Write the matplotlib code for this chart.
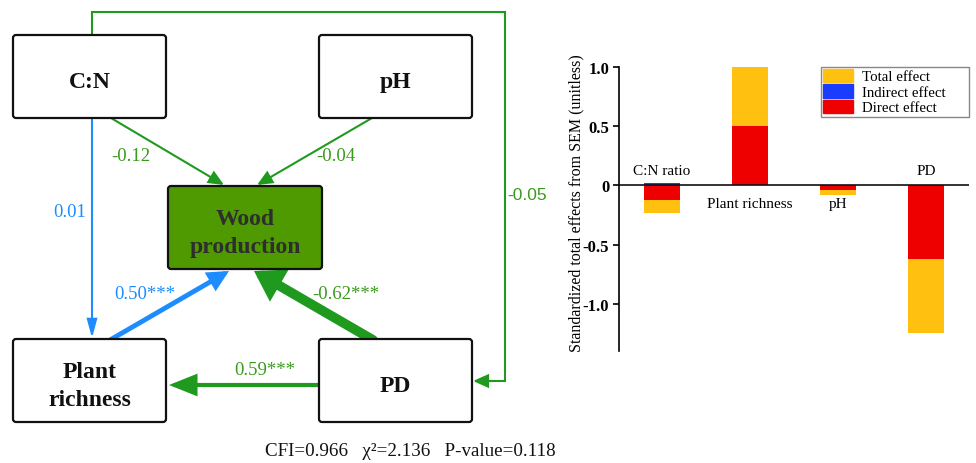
import matplotlib
matplotlib.use('Agg')
from matplotlib import pyplot as plt
from matplotlib.patches import FancyBboxPatch, FancyArrowPatch, Patch

# bar chart data (standardized effects from SEM)
categories = ['C:N ratio', 'Plant richness', 'pH', 'PD']
direct_effect = [-0.12, 0.50, -0.04, -0.62]
indirect_effect = [0.02, 0.0, 0.0, 0.0]
total_effect = [-0.11, 0.50, -0.045, -0.63]
yticks = [-1.0, -0.5, 0, 0.5, 1.0]
ytick_labels = ['-1.0', '-0.5', '0', '0.5', '1.0']

# path diagram data
path_coefs = {'cn_wood': '-0.12', 'ph_wood': '-0.04', 'cn_plant': '0.01',
              'plant_wood': '0.50***', 'pd_wood': '-0.62***', 'pd_plant': '0.59***',
              'cn_pd': '-0.05'}
fit_text = 'CFI=0.966   \u03c7\u00b2=2.136   P-value=0.118'

SERIF = 'Liberation Serif'
SANS = 'Liberation Sans'
GREEN = '#1f9a1f'
GREEN_TXT = '#3a9a1c'
BLUE = '#1c8cff'
WOOD = '#4e9a00'
C_TOTAL = '#ffc010'
C_IND = '#1a3cff'
C_DIR = '#ee0000'

fig = plt.figure(figsize=(9.76, 4.64), dpi=100)

# ---- left: path diagram, drawn in pixel coordinates ----
ax0 = fig.add_axes([0, 0, 1, 1])
ax0.set_xlim(0, 976)
ax0.set_ylim(464, 0)
ax0.axis('off')

def box(x0, y0, x1, y1, text, fc='white', tc='#111111'):
    p = FancyBboxPatch((x0, y0), x1 - x0, y1 - y0, boxstyle='round,pad=0,rounding_size=3',
                       fc=fc, ec='#111111', lw=1.6, zorder=3)
    ax0.add_patch(p)
    ax0.text((x0 + x1) / 2, (y0 + y1) / 2 + 5, text, ha='center', va='center', fontsize=17,
             fontweight='bold', family=SERIF, color=tc, linespacing=1.45, zorder=4)

box(13, 36, 166, 119, 'C:N')
box(319, 36, 472, 119, 'pH')
box(168, 187, 322, 270, 'Wood\nproduction', fc=WOOD, tc='#2e2e2e')
box(13, 340, 166, 423, 'Plant\nrichness')
box(319, 340, 472, 423, 'PD')

def arrow(p0, p1, color, lw, hl, hw):
    a = FancyArrowPatch(p0, p1, arrowstyle='-|>,head_length=%g,head_width=%g' % (hl, hw),
                        mutation_scale=10, color=color, lw=lw, shrinkA=0, shrinkB=0,
                        joinstyle='miter', zorder=2)
    ax0.add_patch(a)

arrow((111, 119), (224, 186), GREEN, 1.5, 0.9, 0.4)
arrow((372, 119), (257, 186), GREEN, 1.5, 0.9, 0.4)
arrow((92, 119), (92, 339), BLUE, 1.5, 1.1, 0.3)
arrow((110, 341), (229, 272), BLUE, 3.5, 1.0, 0.5)
arrow((373, 341), (254, 272), GREEN, 7, 1.1, 0.7)
arrow((318, 386), (169, 386), GREEN, 3, 1.5, 0.6)

# long path from C:N around to PD
ax0.plot([92, 92, 505, 505, 490], [36, 13, 13, 382, 382], color=GREEN, lw=1.5,
         solid_joinstyle='miter', zorder=2)
arrow((495, 382), (473, 382), GREEN, 1.5, 0.9, 0.4)

lab = dict(family=SERIF, fontsize=13.5, ha='center', va='center')
ax0.text(131, 157, path_coefs['cn_wood'], color=GREEN_TXT, **lab)
ax0.text(336, 157, path_coefs['ph_wood'], color=GREEN_TXT, **lab)
ax0.text(70, 213, path_coefs['cn_plant'], color=BLUE, **lab)
ax0.text(145, 295, path_coefs['plant_wood'], color=BLUE, **lab)
ax0.text(346, 295, path_coefs['pd_wood'], color=GREEN_TXT, **lab)
ax0.text(265, 371, path_coefs['pd_plant'], color=GREEN_TXT, **lab)
ax0.text(527, 196, path_coefs['cn_pd'], color=GREEN_TXT, family=SANS, fontsize=12.5,
         ha='center', va='center')
ax0.text(410, 452, fit_text, family=SERIF, fontsize=13.7, ha='center', va='center', color='#111111')

# ---- right: stacked effect bars ----
ax = fig.add_axes([619 / 976, 112 / 464, 350 / 976, 284.5 / 464])
x = list(range(len(categories)))
w = 0.41
ax.bar(x, direct_effect, w, color=C_DIR, zorder=2)
ax.bar(x, total_effect, w, bottom=direct_effect, color=C_TOTAL, zorder=2)
ax.bar(x, indirect_effect, w, color=C_IND, zorder=2)
ax.axhline(0, color='#111111', lw=1.2, zorder=3)

ax.set_xlim(-0.49, 3.49)
ax.set_ylim(-1.40, 1.005)
for s in ['top', 'right', 'bottom']:
    ax.spines[s].set_visible(False)
ax.spines['left'].set_linewidth(1.2)
ax.set_xticks([])
ax.set_yticks(yticks)
ax.set_yticklabels(ytick_labels, family=SERIF, fontweight='bold', fontsize=12)
ax.tick_params(axis='y', length=4, width=1.2, pad=3)

label_y = [0.13, -0.15, -0.15, 0.13]
for xi, name, ly in zip(x, categories, label_y):
    ax.text(xi, ly, name, ha='center', va='center', family=SERIF, fontsize=11)

fig.text(576 / 976, 1 - 203 / 464, 'Standardized total effects from SEM (unitless)',
         rotation=90, ha='center', va='center', family=SERIF, fontsize=11.5)

handles = [Patch(color=C_TOTAL), Patch(color=C_IND), Patch(color=C_DIR)]
leg = ax.legend(handles, ['Total effect', 'Indirect effect', 'Direct effect'],
                loc='upper left', bbox_to_anchor=(0.577, 0.5, 0.423, 0.5), mode='expand',
                prop={'family': SERIF, 'size': 10.7},
                fancybox=False, edgecolor='#888888', framealpha=1, borderpad=0.15,
                labelspacing=0.05, handlelength=2.0, handleheight=1.0, handletextpad=0.6,
                borderaxespad=0.0)
leg.get_frame().set_linewidth(1.0)

fig.savefig('out.png', dpi=100)
